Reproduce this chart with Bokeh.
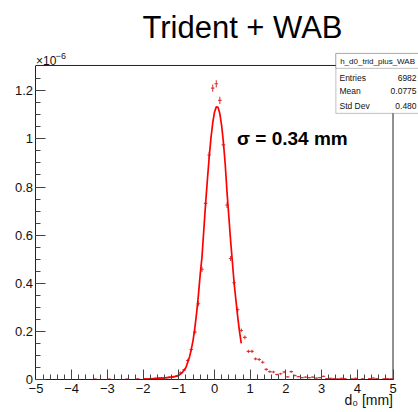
from bokeh.plotting import figure
from bokeh.models import Range1d, FixedTicker, Label, BoxAnnotation, ColumnDataSource
from bokeh.embed import file_html
from bokeh.resources import INLINE

# ---- data (y in units of 1e-6) ----
bin_width = 0.1
bin_center = [-3.35, -2.95, -2.45, -2.15, -1.95, -1.85, -1.75, -1.65, -1.55, -1.45,
              -1.35, -1.25, -1.15, -1.05, -0.95, -0.85, -0.75, -0.65, -0.55, -0.45,
              -0.35, -0.25, -0.15, -0.05, 0.05, 0.15, 0.25, 0.35, 0.45, 0.55,
              0.65, 0.75, 0.85, 0.95, 1.05, 1.15, 1.25, 1.35, 1.45, 1.55,
              1.65, 1.75, 1.85, 1.95, 2.05, 2.15, 2.25, 2.35, 2.45, 2.55,
              2.65, 2.75, 2.85, 2.95, 3.05, 3.15, 3.25, 3.35, 3.45, 3.55,
              3.65, 3.85, 3.95, 4.15, 4.35, 4.45, 4.55, 4.75, 4.85, 4.95]
bin_content = [0.002, 0.002, 0.002, 0.003, 0.003, 0.004, 0.004, 0.005, 0.006, 0.007,
               0.008, 0.010, 0.011, 0.013, 0.028, 0.040, 0.079, 0.125, 0.197, 0.315,
               0.458, 0.732, 0.933, 1.211, 1.229, 1.160, 0.975, 0.725, 0.503, 0.402,
               0.290, 0.204, 0.175, 0.117, 0.117, 0.086, 0.083, 0.072, 0.042, 0.033,
               0.031, 0.021, 0.024, 0.031, 0.011, 0.033, 0.017, 0.012, 0.008, 0.010,
               0.008, 0.010, 0.006, 0.008, 0.013, 0.004, 0.005, 0.004, 0.003, 0.005,
               0.004, 0.003, 0.005, 0.003, 0.004, 0.006, 0.004, 0.003, 0.004, 0.003]
bin_error = [0.002, 0.002, 0.002, 0.002, 0.002, 0.002, 0.002, 0.002, 0.002, 0.002,
             0.002, 0.002, 0.003, 0.003, 0.005, 0.005, 0.007, 0.008, 0.009, 0.010,
             0.011, 0.012, 0.014, 0.015, 0.015, 0.015, 0.014, 0.012, 0.010, 0.010,
             0.009, 0.008, 0.008, 0.007, 0.007, 0.006, 0.006, 0.006, 0.005, 0.005,
             0.005, 0.004, 0.004, 0.005, 0.003, 0.005, 0.004, 0.003, 0.003, 0.003,
             0.003, 0.003, 0.002, 0.003, 0.003, 0.002, 0.002, 0.002, 0.002, 0.002,
             0.002, 0.002, 0.002, 0.002, 0.002, 0.002, 0.002, 0.002, 0.002, 0.002]

fit_x = [-2.0, -1.8, -1.6, -1.4, -1.2, -1.1, -1.0, -0.9, -0.8, -0.7, -0.65, -0.6, -0.55,
         -0.5, -0.45, -0.4, -0.35, -0.3, -0.25, -0.2, -0.15, -0.1, -0.05, 0.0, 0.05,
         0.1, 0.15, 0.2, 0.25, 0.3, 0.35, 0.4, 0.45, 0.5, 0.55, 0.6, 0.65, 0.7, 0.75]
fit_y = [0.002, 0.003, 0.005, 0.007, 0.010, 0.013, 0.018, 0.029, 0.050, 0.094, 0.125, 0.163, 0.215,
         0.278, 0.352, 0.437, 0.51, 0.62, 0.729, 0.828, 0.921, 1.002, 1.066, 1.111, 1.133,
         1.131, 1.104, 1.055, 0.985, 0.895, 0.78, 0.68, 0.58, 0.49, 0.40, 0.33, 0.26, 0.20, 0.15]

x_ticks = [-5, -4, -3, -2, -1, 0, 1, 2, 3, 4, 5]
x_tick_labels = ["\u22125", "\u22124", "\u22123", "\u22122", "\u22121", "0", "1", "2", "3", "4", "5"]
y_ticks = [0, 0.2, 0.4, 0.6, 0.8, 1.0, 1.2]
y_tick_labels = ["0", "0.2", "0.4", "0.6", "0.8", "1", "1.2"]

title_text = "Trident + WAB"
stats_name = "h_d0_trid_plus_WAB"
stats_rows = ["Entries", "Mean", "Std Dev"]
stats_vals = ["6982", "0.0775", "0.480"]
sigma_text = "\u03c3 = 0.34 mm"
x_label = "d\u2080 [mm]"

FONT = "Liberation Sans"

# axis extent (histogram frame)
X_MIN, X_MAX = -5.0, 5.0
Y_MIN, Y_MAX = 0.0, 1.305

# the plotting frame covers the whole canvas; axes are pinned at the histogram frame
p = figure(width=418, height=412, x_range=Range1d(-5.994, 5.714), y_range=Range1d(-0.137, 1.575),
           output_backend="svg", toolbar_location=None,
           min_border=0, min_border_left=0, min_border_right=0, min_border_top=0, min_border_bottom=0)
p.grid.visible = False
p.outline_line_color = None
p.background_fill_color = "white"
p.border_fill_color = "white"

# axes
p.xaxis.fixed_location = Y_MIN
p.yaxis.fixed_location = X_MIN
p.xaxis.bounds = (X_MIN, X_MAX)
p.yaxis.bounds = (Y_MIN, Y_MAX)
p.xaxis.ticker = FixedTicker(ticks=x_ticks,
                             minor_ticks=[round(-5 + 0.2 * i, 2) for i in range(51)])
p.xaxis.major_label_overrides = {t: l for t, l in zip(x_ticks, x_tick_labels)}
p.yaxis.ticker = FixedTicker(ticks=y_ticks,
                             minor_ticks=[round(0.05 * i, 2) for i in range(26)])
p.yaxis.major_label_overrides = {t: l for t, l in zip(y_ticks, y_tick_labels)}
for ax in (p.xaxis, p.yaxis):
    ax.major_tick_in = 10
    ax.major_tick_out = 0
    ax.minor_tick_in = 5
    ax.minor_tick_out = 0
    ax.axis_line_color = "#222222"
    ax.major_tick_line_color = "#444444"
    ax.minor_tick_line_color = "#444444"
    ax.major_label_text_font = FONT
    ax.major_label_text_font_size = "13px"
    ax.major_label_text_color = "#111111"
p.xaxis.major_label_standoff = 4
p.yaxis.major_label_standoff = 3

# top and right sides of the histogram frame
p.segment(x0=[X_MIN, X_MAX], y0=[Y_MAX, Y_MIN], x1=[X_MAX, X_MAX], y1=[Y_MAX, Y_MAX],
          line_color="#222222", line_width=1)

# histogram with error crosses
half = bin_width / 2
src = ColumnDataSource(dict(
    c=bin_center,
    y=bin_content,
    x0=[c - half for c in bin_center],
    x1=[c + half for c in bin_center],
    ylo=[v - e for v, e in zip(bin_content, bin_error)],
    yhi=[v + e for v, e in zip(bin_content, bin_error)],
))
p.segment(x0="x0", y0="y", x1="x1", y1="y", source=src, line_color="#d42c2c", line_alpha=0.9, line_width=1.1)
p.segment(x0="c", y0="ylo", x1="c", y1="yhi", source=src, line_color="#d42c2c", line_alpha=0.9, line_width=1.1)

# fit
p.line(fit_x, fit_y, line_color="#ff0000", line_width=1.7)

# labels
p.add_layout(Label(x=0.784, y=1.463, text=title_text, text_align="center", text_baseline="alphabetic",
                   text_font=FONT, text_font_size="31px", text_color="black"))
p.add_layout(Label(x=-5.0, y=1.325, text="\u00d710", text_align="left", text_baseline="alphabetic",
                   text_font=FONT, text_font_size="12px", text_color="#111111"))
p.add_layout(Label(x=-4.45, y=1.343, text="\u22126", text_align="left", text_baseline="alphabetic",
                   text_font=FONT, text_font_size="9px", text_color="#111111"))
p.add_layout(Label(x=5.0, y=-0.087, text=x_label, text_align="right", text_baseline="alphabetic",
                   text_font=FONT, text_font_size="14px", text_color="#111111"))
p.add_layout(Label(x=0.63, y=1.0, text=sigma_text, text_align="left", text_baseline="alphabetic",
                   text_font=FONT, text_font_size="19px", text_font_style="bold", text_color="black"))

# stats box
p.add_layout(BoxAnnotation(left=3.40, right=6.5, top=1.355, bottom=1.106, fill_color="white",
                           fill_alpha=1, line_color="#333333", line_width=1))
p.add_layout(BoxAnnotation(left=3.40, right=6.5, top=1.355, bottom=1.293, fill_color="white",
                           fill_alpha=1, line_color="#333333", line_width=1))
p.add_layout(Label(x=3.52, y=1.32, text=stats_name, text_align="left", text_baseline="alphabetic",
                   text_font=FONT, text_font_size="8px", text_color="#111111"))
row_y = [1.255, 1.197, 1.138]
for name, val, yy in zip(stats_rows, stats_vals, row_y):
    p.add_layout(Label(x=3.50, y=yy, text=name, text_align="left", text_baseline="alphabetic",
                       text_font=FONT, text_font_size="8.5px", text_color="#111111"))
    p.add_layout(Label(x=5.66, y=yy, text=val, text_align="right", text_baseline="alphabetic",
                       text_font=FONT, text_font_size="8.5px", text_color="#111111"))

open("out.html", "w").write(file_html(p, INLINE))
